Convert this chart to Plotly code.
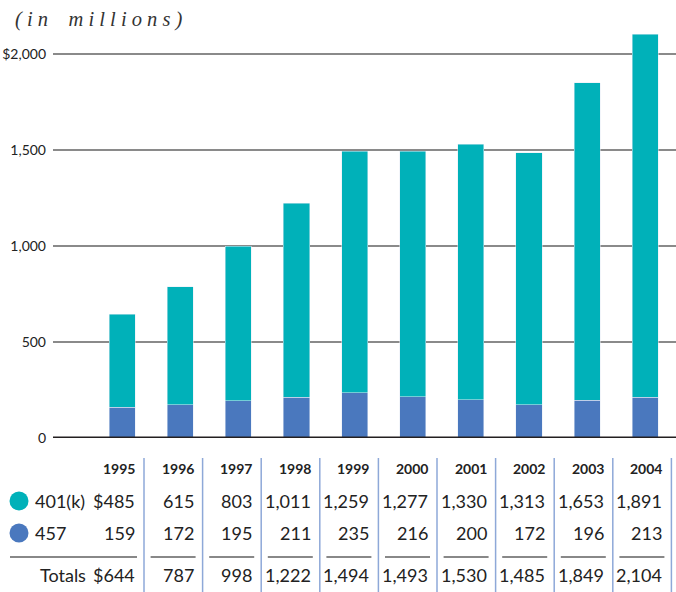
import plotly.graph_objects as go

years = ["1995", "1996", "1997", "1998", "1999", "2000", "2001", "2002", "2003", "2004"]
k401 = [485, 615, 803, 1011, 1259, 1277, 1330, 1313, 1653, 1891]
p457 = [159, 172, 195, 211, 235, 216, 200, 172, 196, 213]
totals = [644, 787, 998, 1222, 1494, 1493, 1530, 1485, 1849, 2104]
k401_labels = ["$485", "615", "803", "1,011", "1,259", "1,277", "1,330", "1,313", "1,653", "1,891"]
p457_labels = ["159", "172", "195", "211", "235", "216", "200", "172", "196", "213"]
total_labels = ["$644", "787", "998", "1,222", "1,494", "1,493", "1,530", "1,485", "1,849", "2,104"]
ytick_vals = [0, 500, 1000, 1500, 2000]
ytick_text = ["0", "500", "1,000", "1,500", "$2,000"]

TEAL = "#00B1B9"
BLUE = "#4A78BE"
FONT = "Lato"
W, H = 676, 592
ML, MR, MT, MB = 53, 0, 30, 154
PW = W - ML - MR
PH = H - MT - MB


def px_x(px):
    return (px - ML) / PW


def px_y(py):
    return (H - MB - py) / PH


fig = go.Figure()
fig.add_trace(go.Bar(x=years, y=p457, marker_color=BLUE, width=0.45, name="457"))
fig.add_trace(go.Bar(x=years, y=k401, marker_color=TEAL, width=0.45, name="401(k)"))

ann = []
shapes = []
ann.append(dict(text="<i>( i n &nbsp;&nbsp; m i l l i o n s )</i>", x=px_x(13), y=px_y(19),
                xref="paper", yref="paper", xanchor="left", yanchor="middle", showarrow=False,
                font=dict(family="Liberation Serif", size=20.5, color="#333")))

rows = [(501, k401_labels), (533, p457_labels), (575, total_labels)]
for i, yr in enumerate(years):
    right = 137 + 58.6 * i
    ann.append(dict(text="<b>%s</b>" % yr, x=px_x(right), y=px_y(468), xref="paper", yref="paper",
                    xanchor="right", yanchor="middle", showarrow=False,
                    font=dict(family=FONT, size=14, color="#222")))
    for py, labels in rows:
        ann.append(dict(text=labels[i], x=px_x(right), y=px_y(py), xref="paper", yref="paper",
                        xanchor="right", yanchor="middle", showarrow=False,
                        font=dict(family=FONT, size=18, color="#222")))
    sep = 144 + 58.6 * i
    shapes.append(dict(type="line", xref="paper", yref="paper", x0=px_x(sep), x1=px_x(sep),
                       y0=px_y(458), y1=px_y(592), line=dict(color="#8EA8D8", width=1.5)))
    left = 10 if i == 0 else right - 45
    shapes.append(dict(type="line", xref="paper", yref="paper", x0=px_x(left), x1=px_x(right),
                       y0=px_y(557), y1=px_y(557), line=dict(color="#888", width=2)))

for py, label, col in [(501, "401(k)", TEAL), (533, "457", BLUE)]:
    ann.append(dict(text=label, x=px_x(33), y=px_y(py), xref="paper", yref="paper",
                    xanchor="left", yanchor="middle", showarrow=False,
                    font=dict(family=FONT, size=18, color="#222")))
    shapes.append(dict(type="circle", xref="paper", yref="paper", xsizemode="pixel", ysizemode="pixel",
                       xanchor=px_x(19), yanchor=px_y(py), x0=-9.5, x1=9.5, y0=-9.5, y1=9.5,
                       fillcolor=col, line=dict(width=0)))
ann.append(dict(text="Totals", x=px_x(88), y=px_y(575), xref="paper", yref="paper",
                xanchor="right", yanchor="middle", showarrow=False,
                font=dict(family=FONT, size=18, color="#222")))

# zero baseline
shapes.append(dict(type="line", xref="paper", yref="y", x0=0, x1=1, y0=0, y1=0,
                   line=dict(color="#231F20", width=3)))

fig.update_layout(
    barmode="stack",
    width=W, height=H,
    margin=dict(l=ML, r=MR, t=MT, b=MB),
    paper_bgcolor="white", plot_bgcolor="white",
    showlegend=False,
    annotations=ann,
    shapes=shapes,
    xaxis=dict(range=[-1.19, 9.53], showticklabels=False, showgrid=False, zeroline=False, ticks=""),
    yaxis=dict(range=[0, 2125], tickvals=ytick_vals, ticktext=ytick_text, showgrid=True,
               gridcolor="#8A8A8A", gridwidth=2, zeroline=False, ticks="", ticklabelstandoff=6,
               tickfont=dict(family=FONT, size=14, color="#222")),
)
fig.write_html("out.html", config={"displayModeBar": False},
               post_script="document.body.style.margin='0';document.body.style.overflow='hidden';")
